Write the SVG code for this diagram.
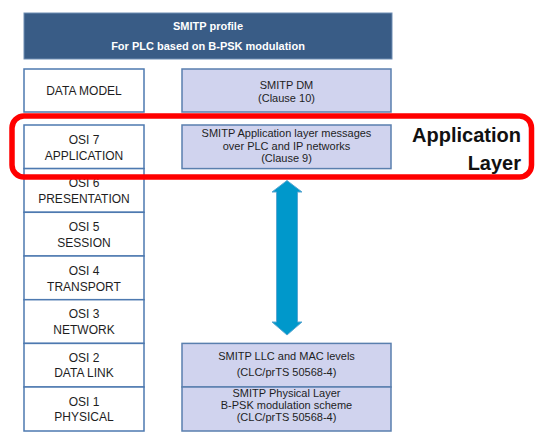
<svg xmlns="http://www.w3.org/2000/svg" width="551" height="446" viewBox="0 0 551 446">
<style>
text{font-family:"Liberation Sans",Arial,sans-serif;text-anchor:middle;fill:#1e1e1e}
.hdr rect{fill:#395c86;stroke:#6f8db3;stroke-width:1}
.hdr text{fill:#ffffff;font-weight:bold;font-size:11px}
.osi rect{fill:#ffffff;stroke:#4d79b0;stroke-width:1.5}
.osi text{font-size:12px}
.blk rect{fill:#d0d3ee;stroke:#5a7fae;stroke-width:1.5}
.blk text{font-size:11px}
.al{font-family:"Liberation Sans",Arial,sans-serif;font-weight:bold;font-size:20px;text-anchor:end;fill:#111}
</style>
<rect width="551" height="446" fill="#ffffff"/>
<g id="header" class="hdr">
<rect x="24" y="13" width="368" height="46"/>
<text x="208" y="30">SMITP profile</text>
<text x="208" y="50">For PLC based on B-PSK modulation</text>
</g>
<g id="data-model" class="osi"><rect x="24" y="69" width="120" height="43"/><text x="84" y="95">DATA MODEL</text></g>
<g id="osi7" class="osi"><rect x="24" y="125" width="120" height="43.6"/><text x="84" y="143.5">OSI 7</text><text x="84" y="159.5">APPLICATION</text></g>
<g id="osi6" class="osi"><rect x="24" y="168.6" width="120" height="43.7"/><text x="84" y="187">OSI 6</text><text x="84" y="203">PRESENTATION</text></g>
<g id="osi5" class="osi"><rect x="24" y="212.3" width="120" height="43.7"/><text x="84" y="230.8">OSI 5</text><text x="84" y="246.8">SESSION</text></g>
<g id="osi4" class="osi"><rect x="24" y="256" width="120" height="43.7"/><text x="84" y="274.5">OSI 4</text><text x="84" y="290.5">TRANSPORT</text></g>
<g id="osi3" class="osi"><rect x="24" y="299.7" width="120" height="43.7"/><text x="84" y="318.2">OSI 3</text><text x="84" y="334.2">NETWORK</text></g>
<g id="osi2" class="osi"><rect x="24" y="343.4" width="120" height="43.6"/><text x="84" y="361.9">OSI 2</text><text x="84" y="377.4">DATA LINK</text></g>
<g id="osi1" class="osi"><rect x="24" y="387" width="120" height="44"/><text x="84" y="405.5">OSI 1</text><text x="84" y="421">PHYSICAL</text></g>
<g id="smitp-dm" class="blk"><rect x="182" y="69" width="209" height="43"/><text x="286.5" y="89">SMITP DM</text><text x="286.5" y="102">(Clause 10)</text></g>
<g id="smitp-app" class="blk"><rect x="182" y="125" width="209" height="43.6"/><text x="286.5" y="136.5">SMITP Application layer messages</text><text x="286.5" y="149.5">over PLC and IP networks</text><text x="286.5" y="162">(Clause 9)</text></g>
<g id="smitp-llc" class="blk"><rect x="182" y="343.4" width="209" height="43.6"/><text x="286.5" y="360">SMITP LLC and MAC levels</text><text x="286.5" y="376">(CLC/prTS 50568-4)</text></g>
<g id="smitp-phy" class="blk"><rect x="182" y="387" width="209" height="44"/><text x="286.5" y="397">SMITP Physical Layer</text><text x="286.5" y="409">B-PSK modulation scheme</text><text x="286.5" y="421">(CLC/prTS 50568-4)</text></g>
<g id="connectors">
<polygon points="287,180.5 302,192 297.5,192 297.5,322 302,322 287,335 272,322 276.5,322 276.5,192 272,192" fill="#0098cb" stroke="#5aa7d2" stroke-width="1"/>
</g>
<g id="application-layer">
<rect x="12" y="116" width="519.5" height="61" rx="12" ry="12" fill="none" stroke="#ff0000" stroke-width="5.5"/>
<text class="al" x="521" y="142">Application</text>
<text class="al" x="521" y="170">Layer</text>
</g>
</svg>
